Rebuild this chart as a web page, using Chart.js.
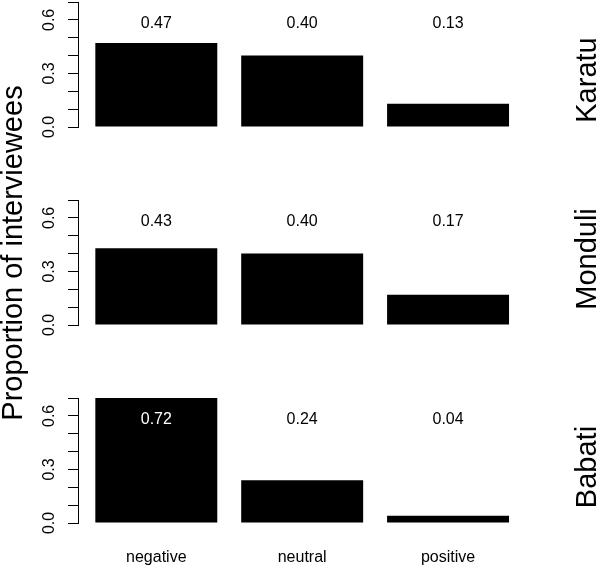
<!DOCTYPE html>
<html><head><meta charset="utf-8">
<script src="https://cdn.jsdelivr.net/npm/chart.js@4.4.1/dist/chart.umd.min.js"></script>
<style>
html,body{margin:0;padding:0;background:#fff;}
#wrap{position:relative;width:597px;height:567px;overflow:hidden;font-family:"Liberation Sans",Arial,sans-serif;background:#fff;}
canvas{position:absolute;left:0;}
.rot{position:absolute;width:400px;height:34px;line-height:34px;text-align:center;font-size:29px;color:#000;transform:rotate(-90deg);white-space:nowrap;}
</style></head><body>
<div id="wrap">
<canvas id="c0" width="597" height="142" style="top:0px"></canvas>
<canvas id="c1" width="597" height="150" style="top:190px"></canvas>
<canvas id="c2" width="597" height="179" style="top:388px"></canvas>
<div class="rot" id="ytitle"></div>
<div class="rot" id="p0"></div>
<div class="rot" id="p1"></div>
<div class="rot" id="p2"></div>
</div>
<script>
// ---- data ----
const categories = ['negative', 'neutral', 'positive'];
const panelNames = ['Karatu', 'Monduli', 'Babati'];
const karatu  = [0.47, 0.40, 0.13];
const monduli = [0.43, 0.40, 0.17];
const babati  = [0.72, 0.24, 0.04];
const yTickValues = [0, 0.1, 0.2, 0.3, 0.4, 0.5, 0.6, 0.7];
const yTickLabels = ['0.0', '', '', '0.3', '', '', '0.6', ''];
const yTitle = 'Proportion of interviewees';

// ---- layout constants ----
const FONT = '"Liberation Sans", Arial, sans-serif';
const LABEL_Y = 0.58;            // height (data units) where value labels sit
const panelLabelCenters = [80, 259, 467];

Chart.defaults.font.family = FONT;
Chart.defaults.font.size = 16;
Chart.defaults.color = '#000';

const valueLabels = {
  id: 'valueLabels',
  afterDatasetsDraw(chart) {
    const ctx = chart.ctx;
    const xs = chart.scales.x, ys = chart.scales.y;
    const data = chart.data.datasets[0].data;
    ctx.save();
    ctx.font = '16px ' + FONT;
    ctx.textAlign = 'center';
    ctx.textBaseline = 'middle';
    const py = ys.getPixelForValue(LABEL_Y);
    data.forEach(d => {
      ctx.fillStyle = d.y > LABEL_Y ? '#fff' : '#000';
      ctx.fillText(d.y.toFixed(2), xs.getPixelForValue(d.x), py);
    });
    ctx.restore();
  }
};

function makeChart(id, values, showX, padTop, padBottom) {
  return new Chart(document.getElementById(id), {
    type: 'bar',
    data: {
      datasets: [{
        data: values.map((v, i) => ({x: i, y: v})),
        backgroundColor: '#000',
        borderWidth: 0,
        barPercentage: 0.836,
        categoryPercentage: 1
      }]
    },
    options: {
      responsive: false,
      animation: false,
      devicePixelRatio: 1,
      layout: {padding: {top: padTop, bottom: padBottom, left: 0, right: 0}},
      plugins: {legend: {display: false}, tooltip: {enabled: false}},
      scales: {
        x: {
          type: 'linear',
          display: showX,
          offset: false,
          min: -0.5368,
          max: 3.021,
          grid: {display: false, offset: false},
          border: {display: false},
          afterBuildTicks: s => { s.ticks = categories.map((c, i) => ({value: i})); },
          afterFit: s => { s.height = showX ? 44 : 0; s.paddingLeft = 0; s.paddingRight = 0; },
          ticks: {
            padding: 17,
            autoSkip: false,
            maxRotation: 0,
            color: '#000',
            font: {size: 16},
            callback: v => categories[Math.round(v)] ?? ''
          }
        },
        y: {
          type: 'linear',
          min: 0,
          max: 0.7,
          grid: {drawOnChartArea: false, drawTicks: true, tickLength: 10, color: '#000', lineWidth: 1},
          border: {display: true, color: '#000', width: 1},
          afterBuildTicks: s => { s.ticks = yTickValues.map(v => ({value: v})); },
          afterFit: s => { s.width = 78; s.paddingTop = 0; s.paddingBottom = 0; },
          ticks: {
            autoSkip: false,
            minRotation: 90,
            maxRotation: 90,
            crossAlign: 'center',
            padding: 7,
            color: '#000',
            font: {size: 16},
            callback: (v, i) => {
              const k = yTickValues.findIndex(t => Math.abs(t - v) < 1e-9);
              return k >= 0 ? yTickLabels[k] : '';
            }
          }
        }
      }
    },
    plugins: [valueLabels]
  });
}

makeChart('c0', karatu, false, 2, 15);
makeChart('c1', monduli, false, 10, 15);
makeChart('c2', babati, true, 10, 0);

function placeRot(id, text, cx, cy) {
  const el = document.getElementById(id);
  el.textContent = text;
  el.style.left = (cx - 200) + 'px';
  el.style.top = (cy - 17) + 'px';
}
placeRot('ytitle', yTitle, 11.7, 253);
panelNames.forEach((n, i) => placeRot('p' + i, n, 586, panelLabelCenters[i]));
</script>
</body></html>
